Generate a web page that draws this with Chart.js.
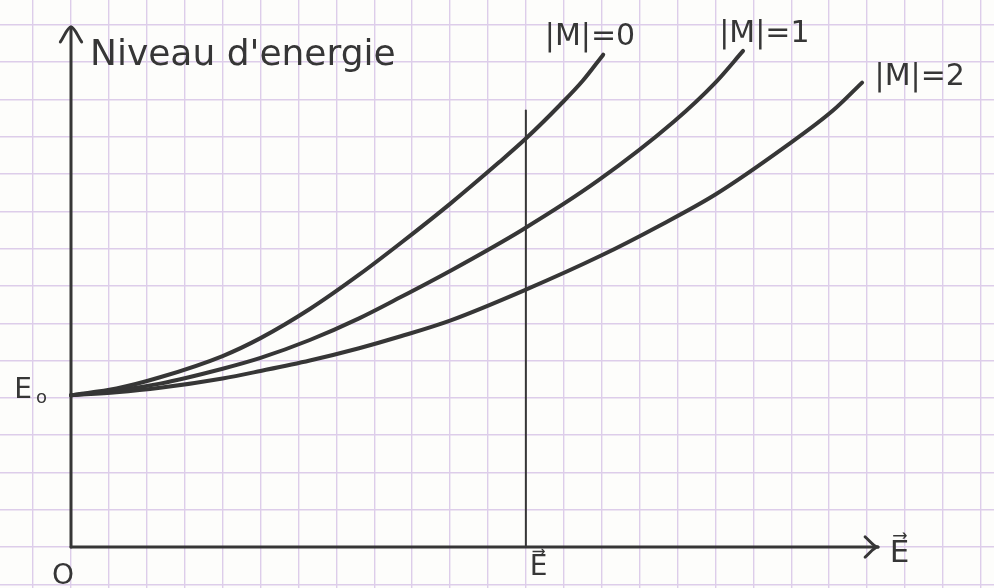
<!DOCTYPE html>
<html>
<head>
<meta charset="utf-8">
<script src="https://cdn.jsdelivr.net/npm/chart.js@4/dist/chart.umd.min.js"></script>
<style>
  html, body { margin: 0; padding: 0; background: #fdfdfb; }
  #wrap { width: 994px; height: 588px; position: relative; }
</style>
</head>
<body>
<div id="wrap"><canvas id="chart"></canvas></div>
<script>
// everything is in grid squares of the paper, origin at "O"

// |M| = 0
const fieldM0  = [0, 1.2, 2.35, 4.0, 5.0, 6.3, 7.6, 8.7, 10.0, 11.3, 12.0, 12.9, 13.5, 14.04];
const energyM0 = [4.07, 4.25, 4.55, 5.12, 5.6, 6.38, 7.3, 8.15, 9.2, 10.32, 10.95, 11.85, 12.5, 13.2];
// |M| = 1
const fieldM1  = [0, 1.2, 2.35, 4.0, 5.0, 6.3, 7.6, 8.7, 10.0, 11.9, 13.9, 15.9, 17.0, 17.73];
const energyM1 = [4.07, 4.2, 4.38, 4.78, 5.07, 5.55, 6.13, 6.7, 7.4, 8.5, 9.82, 11.4, 12.45, 13.3];
// |M| = 2
const fieldM2  = [0, 1.2, 2.35, 4.0, 5.0, 6.3, 7.6, 8.7, 10.0, 12.0, 14.0, 15.5, 17.0, 18.8, 20.1, 20.87];
const energyM2 = [4.07, 4.15, 4.27, 4.52, 4.72, 5.0, 5.33, 5.65, 6.07, 6.9, 7.82, 8.6, 9.45, 10.7, 11.7, 12.45];

const curveLabels = ['|M|=0', '|M|=1', '|M|=2'];
const fieldMark = 12;      // position of the vertical line E
const fieldMarkTop = 11.7;
const yAxisTop = 13.94;
const xAxisEnd = 21.29;

const pts = (xs, ys) => xs.map((x, i) => ({x: x, y: ys[i]}));

const ink = '#363636';

function line(data, width) {
    return {
        data: data,
        borderColor: ink,
        borderWidth: width,
        pointRadius: 0,
        showLine: true,
        fill: false,
        borderCapStyle: 'round',
        borderJoinStyle: 'round',
        cubicInterpolationMode: 'monotone'
    };
}

// text written on the sheet, placed in grid units
const notes = [
    {text: "Niveau d'energie", x: 0.5, y: 12.92, font: '36px "DejaVu Sans"'},
    {text: curveLabels[0], x: 12.5, y: 13.46, font: '30px "DejaVu Sans"'},
    {text: curveLabels[1], x: 17.1, y: 13.54, font: '30px "DejaVu Sans"'},
    {text: curveLabels[2], x: 21.2, y: 12.39, font: '30px "DejaVu Sans"'},
    {text: 'E', x: -1.5, y: 3.99, font: '28px "DejaVu Sans"'},
    {text: 'o', x: -0.92, y: 3.85, font: '18px "DejaVu Sans"'},
    {text: 'O', x: -0.5, y: -1.0, font: '28px "DejaVu Sans"'},
    {text: 'E\u20D7', x: 12.1, y: -0.75, font: '28px "DejaVu Sans"'},
    {text: 'E\u20D7', x: 21.6, y: -0.4, font: '31px "DejaVu Sans"'}
];

const notesPlugin = {
    id: 'notes',
    afterDatasetsDraw(chart) {
        const c = chart.ctx;
        const sx = chart.scales.x, sy = chart.scales.y;
        c.save();
        c.fillStyle = ink;
        c.textBaseline = 'alphabetic';
        notes.forEach(n => {
            c.font = n.font;
            c.fillText(n.text, sx.getPixelForValue(n.x), sy.getPixelForValue(n.y));
        });
        c.restore();
    }
};

const ctx = document.getElementById('chart').getContext('2d');

const chart = new Chart(ctx, {
    type: 'scatter',
    data: {
        datasets: [
            line(pts(fieldM0, energyM0), 4),
            line(pts(fieldM1, energyM1), 4),
            line(pts(fieldM2, energyM2), 4),
            line([{x: 0, y: 0}, {x: 0, y: yAxisTop}], 3),
            line([{x: -0.28, y: yAxisTop - 0.4}, {x: 0, y: yAxisTop}, {x: 0.28, y: yAxisTop - 0.4}], 3),
            line([{x: 0, y: 0}, {x: xAxisEnd, y: 0}], 3),
            line([{x: xAxisEnd - 0.34, y: 0.27}, {x: xAxisEnd, y: 0}, {x: xAxisEnd - 0.34, y: -0.27}], 3),
            line([{x: fieldMark, y: 0}, {x: fieldMark, y: fieldMarkTop}], 2)
        ]
    },
    options: {
        responsive: true,
        maintainAspectRatio: false,
        animation: false,
        layout: { padding: 0 },
        plugins: {
            legend: { display: false },
            tooltip: { enabled: false }
        },
        scales: {
            x: {
                type: 'linear',
                min: -1.873,
                max: 24.35,
                afterBuildTicks: s => { s.ticks = []; for (let v = -1; v <= 24; v++) s.ticks.push({value: v}); },
                ticks: { display: false },
                border: { display: false },
                grid: { color: '#ddcdea', lineWidth: 1.4, drawTicks: false }
            },
            y: {
                type: 'linear',
                min: -1.099,
                max: 14.665,
                afterBuildTicks: s => { s.ticks = []; for (let v = -1; v <= 14; v++) s.ticks.push({value: v}); },
                ticks: { display: false },
                border: { display: false },
                grid: { color: '#ddcdea', lineWidth: 1.4, drawTicks: false }
            }
        }
    },
    plugins: [notesPlugin]
});
</script>
</body>
</html>
